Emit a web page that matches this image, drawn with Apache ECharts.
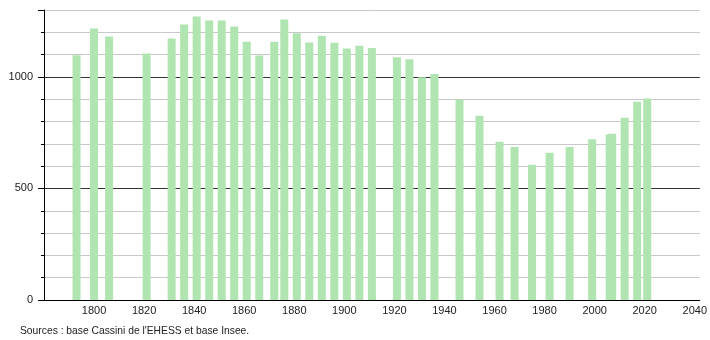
<!DOCTYPE html>
<html>
<head>
<meta charset="utf-8">
<script src="https://cdn.jsdelivr.net/npm/echarts@6/dist/echarts.min.js"></script>
<style>
  html, body { margin: 0; padding: 0; background: #fff; }
  #chart { width: 710px; height: 340px; }
</style>
</head>
<body>
<div id="chart"></div>
<script>
// recensements
const years = [1793, 1800, 1806, 1821, 1831, 1836, 1841, 1846, 1851, 1856,
  1861, 1866, 1872, 1876, 1881, 1886, 1891, 1896, 1901, 1906,
  1911, 1921, 1926, 1931, 1936, 1946, 1954, 1962, 1968, 1975,
  1982, 1990, 1999, 2006, 2007, 2012, 2017, 2021];
const population = [1097, 1217, 1181, 1105, 1172, 1235, 1271, 1253, 1253, 1226,
  1158, 1096, 1158, 1257, 1196, 1154, 1185, 1153, 1127, 1140,
  1130, 1088, 1079, 998, 1013, 899, 826, 709, 686, 606,
  660, 686, 721, 742, 745, 817, 889, 903];
const xLabels = [1800, 1820, 1840, 1860, 1880, 1900, 1920, 1940, 1960, 1980, 2000, 2020, 2040];
const yLabels = [0, 500, 1000];
const sourceText = "Sources : base Cassini de l'EHESS et base Insee.";

const font = "'Liberation Sans', Arial, sans-serif";
const chart = echarts.init(document.getElementById('chart'), null, { renderer: 'canvas' });

const option = {
  animation: false,
  backgroundColor: '#fff',
  title: {
    text: sourceText,
    left: 15,
    top: 321,
    textStyle: { fontFamily: font, fontSize: 10.3, fontWeight: 'normal', color: '#222' }
  },
  grid: { left: 44, right: 9, top: 10, bottom: 40 },
  xAxis: {
    type: 'value',
    min: 1780,
    max: 2042,
    interval: 20,
    splitLine: { show: false },
    axisTick: { show: false },
    axisLine: { lineStyle: { color: '#000', width: 1 } },
    axisLabel: {
      margin: 5,
      fontFamily: font,
      fontSize: 11,
      color: '#222',
      showMaxLabel: false,
      formatter: v => (xLabels.includes(v) ? String(v) : '')
    }
  },
  yAxis: [
    {
      type: 'value',
      min: 0,
      max: 1300,
      interval: 100,
      axisLine: { show: true, lineStyle: { color: '#000', width: 1 } },
      axisTick: { show: true, length: 3, lineStyle: { color: '#000' } },
      axisLabel: {
        margin: 11,
        fontFamily: font,
        fontSize: 11,
        color: '#222',
        formatter: v => (yLabels.includes(v) ? String(v) : '')
      },
      splitLine: {
        show: true,
        lineStyle: { color: ['#333', '#c8c8c8', '#c8c8c8', '#c8c8c8', '#c8c8c8'], width: 1 }
      }
    },
    {
      // longer ticks every 500
      type: 'value',
      position: 'left',
      min: 0,
      max: 1300,
      interval: 500,
      axisLine: { show: false },
      axisTick: { show: true, length: 6, lineStyle: { color: '#000' } },
      axisLabel: { show: false },
      splitLine: { show: false }
    }
  ],
  series: [
    {
      type: 'bar',
      barWidth: 8,
      itemStyle: { color: '#b0e4b0' },
      data: years.map((y, i) => [y, population[i]])
    }
  ]
};

chart.setOption(option);
</script>
</body>
</html>
